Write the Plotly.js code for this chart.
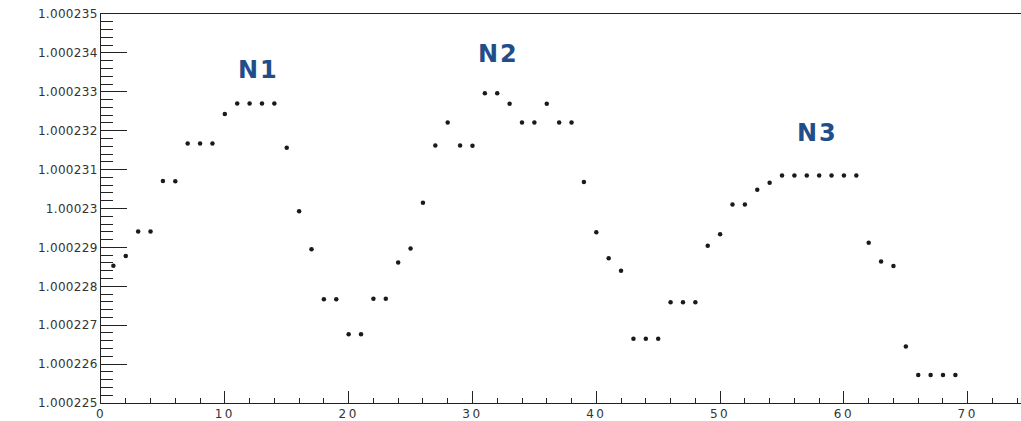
<!DOCTYPE html>
<html>
<head>
<meta charset="utf-8">
<script src="https://cdn.plot.ly/plotly-3.0.1.min.js"></script>
<style>
  html, body { margin: 0; padding: 0; background: #ffffff; overflow: hidden; }
  #chart { width: 1021px; height: 421px; }
  .xtick text { letter-spacing: 2.5px; }
  .ytick text { letter-spacing: 0.3px; }
  .annotation-text { letter-spacing: 2px; }
</style>
</head>
<body>
<div id="chart"></div>
<script>
// Measurement index (x) and measured value (y)
const sampleIndex = [
  1, 2, 3, 4, 5, 6, 7, 8, 9, 10,
  11, 12, 13, 14, 15, 16, 17, 18, 19, 20,
  21, 22, 23, 24, 25, 26, 27, 28, 29, 30,
  31, 32, 33, 34, 35, 36, 37, 38, 39, 40,
  41, 42, 43, 44, 45, 46, 47, 48, 49, 50,
  51, 52, 53, 54, 55, 56, 57, 58, 59, 60,
  61, 62, 63, 64, 65, 66, 67, 68, 69
];
const sampleValue = [
  1.00022853, 1.00022878, 1.00022941, 1.00022941, 1.00023071, 1.00023070, 1.00023167, 1.00023167, 1.00023167, 1.00023243,
  1.00023270, 1.00023270, 1.00023270, 1.00023270, 1.00023156, 1.00022993, 1.00022895, 1.00022767, 1.00022767, 1.00022677,
  1.00022677, 1.00022768, 1.00022768, 1.00022861, 1.00022897, 1.00023015, 1.00023162, 1.00023221, 1.00023162, 1.00023161,
  1.00023296, 1.00023296, 1.00023269, 1.00023221, 1.00023221, 1.00023269, 1.00023221, 1.00023221, 1.00023068, 1.00022939,
  1.00022872, 1.00022840, 1.00022665, 1.00022665, 1.00022665, 1.00022759, 1.00022759, 1.00022759, 1.00022904, 1.00022934,
  1.00023010, 1.00023010, 1.00023048, 1.00023066, 1.00023085, 1.00023085, 1.00023085, 1.00023085, 1.00023085, 1.00023085,
  1.00023085, 1.00022912, 1.00022864, 1.00022852, 1.00022645, 1.00022572, 1.00022572, 1.00022572, 1.00022572
];

// Axis tick labels
const yTickVals = [1.000225, 1.000226, 1.000227, 1.000228, 1.000229, 1.000230, 1.000231, 1.000232, 1.000233, 1.000234, 1.000235];
const yTickText = ["1.000225", "1.000226", "1.000227", "1.000228", "1.000229", "1.00023", "1.000231", "1.000232", "1.000233", "1.000234", "1.000235"];
const xTickVals = [0, 10, 20, 30, 40, 50, 60, 70];
const xTickText = ["0", "10", "20", "30", "40", "50", "60", "70"];

// Peak labels
const peakLabels = ["N1", "N2", "N3"];
const peakX = [12.73, 32.12, 57.85];
const peakY = [1.00023355, 1.00023398, 1.00023193];

const tickFont = { family: "DejaVu Sans, sans-serif", size: 12, color: "#333333" };

const trace = {
  type: "scatter",
  mode: "markers",
  x: sampleIndex,
  y: sampleValue,
  marker: { symbol: "circle", size: 4.5, color: "#1a1a1a" },
  hoverinfo: "x+y"
};

const annotations = peakLabels.map((t, i) => ({
  x: peakX[i], y: peakY[i], xref: "x", yref: "y",
  text: t, showarrow: false, xanchor: "center", yanchor: "middle",
  font: { family: "DejaVu Sans, sans-serif", size: 24, color: "#1f4e8a", weight: "bold" }
}));

const layout = {
  width: 1021,
  height: 421,
  margin: { l: 101, r: 0, t: 14, b: 18, pad: 0 },
  paper_bgcolor: "#ffffff",
  plot_bgcolor: "#ffffff",
  showlegend: false,
  xaxis: {
    range: [0, 74.3],
    tickmode: "array",
    tickvals: xTickVals,
    ticktext: xTickText,
    ticks: "inside",
    ticklen: 12,
    tickwidth: 1,
    tickcolor: "#222222",
    minor: { tickmode: "linear", tick0: 0, dtick: 2, ticks: "inside", ticklen: 5, tickcolor: "#222222", tickwidth: 1 },
    showline: true,
    linecolor: "#222222",
    linewidth: 1,
    mirror: true,
    showgrid: false,
    zeroline: false,
    tickfont: tickFont
  },
  yaxis: {
    range: [1.000225, 1.000235],
    tickmode: "array",
    tickvals: yTickVals,
    ticktext: yTickText,
    ticks: "inside",
    ticklen: 26,
    tickwidth: 1,
    tickcolor: "#222222",
    minor: { tickmode: "linear", tick0: 1.000225, dtick: 0.0000002, ticks: "inside", ticklen: 12, tickcolor: "#222222", tickwidth: 1 },
    showline: true,
    linecolor: "#222222",
    linewidth: 1,
    mirror: false,
    showgrid: false,
    zeroline: false,
    tickfont: tickFont
  },
  annotations: annotations
};

Plotly.newPlot("chart", [trace], layout, { displayModeBar: false, staticPlot: true });
</script>
</body>
</html>
